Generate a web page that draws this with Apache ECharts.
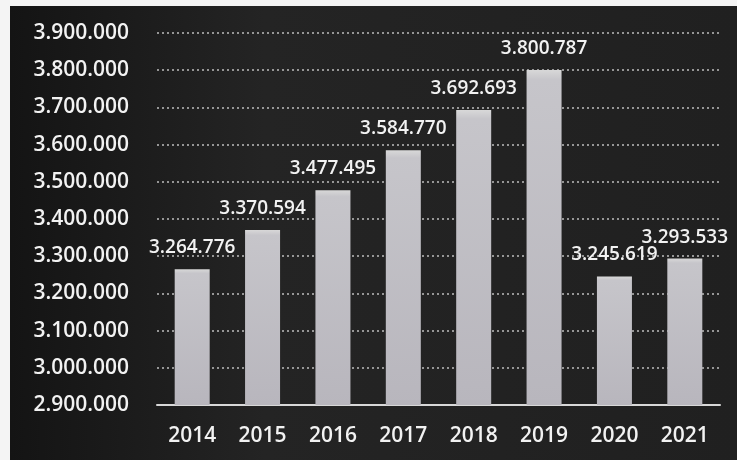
<!DOCTYPE html>
<html>
<head>
<meta charset="utf-8">
<script src="https://cdn.jsdelivr.net/npm/echarts@6/dist/echarts.min.js"></script>
<style>
  html, body { margin: 0; padding: 0; background: #f4f4f4; }
  #wrap { position: absolute; left: 0; top: 0; width: 737px; height: 460px; overflow: hidden; }
  #chart { position: absolute; left: 10px; top: 6px; width: 727px; height: 454px; }
</style>
</head>
<body>
<div id="wrap"><div id="chart"></div></div>
<script>
// Yearly totals, 2014–2021
const years = ['2014', '2015', '2016', '2017', '2018', '2019', '2020', '2021'];
const totals = [3264776, 3370594, 3477495, 3584770, 3692693, 3800787, 3245619, 3293533];

// Y axis range
const yMin = 2900000;
const yMax = 3900000;
const yStep = 100000;

// Thousands separated with dots
function dotted(n) {
  return String(Math.round(n)).replace(/\B(?=(\d{3})+(?!\d))/g, '.');
}

const chart = echarts.init(document.getElementById('chart'), null, { renderer: 'canvas' });

chart.setOption({
  backgroundColor: {
    type: 'linear', x: 0, y: 0, x2: 1, y2: 0,
    colorStops: [
      { offset: 0, color: '#141414' },
      { offset: 0.35, color: '#242424' },
      { offset: 1, color: '#202020' }
    ]
  },
  animation: false,
  grid: { left: 147, right: 17, top: 27, bottom: 55 },
  xAxis: {
    type: 'category',
    data: years,
    axisLine: { show: true, lineStyle: { color: '#d8d8d8', width: 2 } },
    axisTick: { show: false },
    axisLabel: {
      color: '#f2f2f2',
      fontFamily: 'Open Sans',
      fontWeight: 600,
      fontSize: 21,
      margin: 21
    }
  },
  yAxis: {
    type: 'value',
    min: yMin,
    max: yMax,
    interval: yStep,
    axisLine: { show: false },
    axisTick: { show: false },
    splitLine: { show: true, lineStyle: { color: '#bdbdbd', type: [2, 3], width: 1.5 } },
    axisLabel: {
      color: '#f2f2f2',
      fontFamily: 'Open Sans',
      fontWeight: 600,
      fontSize: 21,
      margin: 28,
      formatter: v => dotted(v)
    }
  },
  series: [{
    type: 'bar',
    data: totals,
    barWidth: 35,
    itemStyle: {
      color: {
        type: 'linear', x: 0, y: 0, x2: 0, y2: 1,
        colorStops: [
          { offset: 0, color: '#d8d8d8' },
          { offset: 0.03, color: '#c6c5ca' },
          { offset: 1, color: '#b8b6bd' }
        ]
      }
    },
    label: {
      show: true,
      position: 'top',
      distance: 12,
      color: '#f2f2f2',
      fontFamily: 'Open Sans',
      fontWeight: 600,
      fontSize: 19,
      formatter: p => dotted(p.value)
    }
  }]
});
</script>
</body>
</html>
